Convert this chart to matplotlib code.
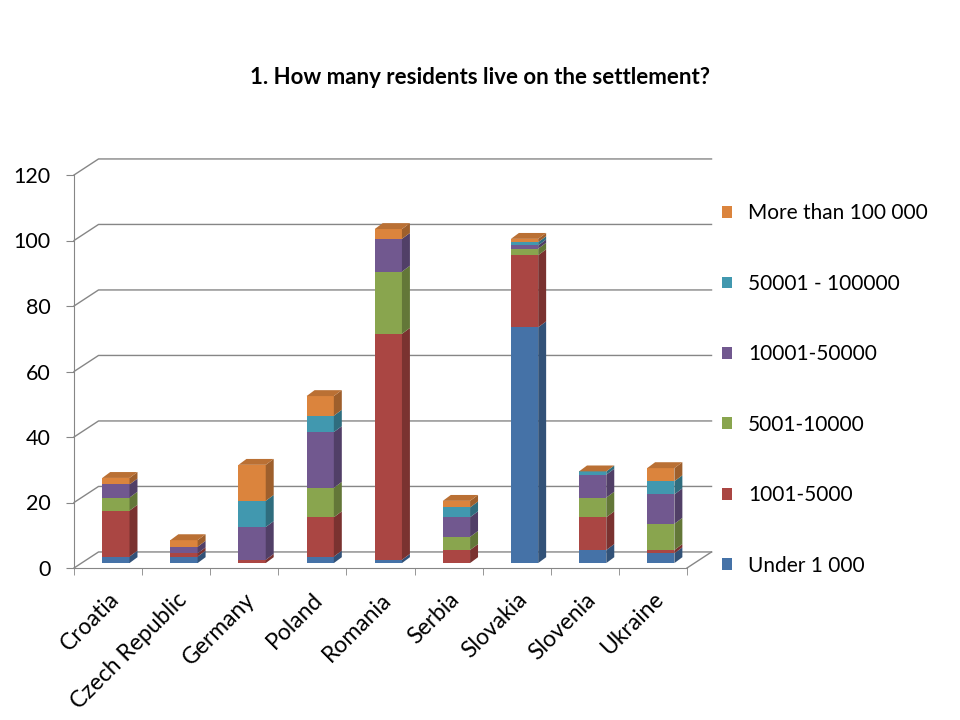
import matplotlib
matplotlib.use('Agg')
import matplotlib.pyplot as plt
from matplotlib.patches import Polygon
import numpy as np

plt.rcParams['font.family'] = ['Lato', 'DejaVu Sans']

# data
categories = ['Croatia', 'Czech Republic', 'Germany', 'Poland', 'Romania',
              'Serbia', 'Slovakia', 'Slovenia', 'Ukraine']
under_1000 = [2, 2, 0, 2, 1, 0, 72, 4, 3]
from_1001 = [14, 1, 1, 12, 69, 4, 22, 10, 1]
from_5001 = [4, 0, 0, 9, 19, 4, 2, 6, 8]
from_10001 = [4, 2, 10, 17, 10, 6, 1, 7, 9]
from_50001 = [0, 0, 8, 5, 0, 3, 1, 1, 4]
over_100000 = [2, 2, 11, 6, 3, 2, 1, 0, 4]

series = [under_1000, from_1001, from_5001, from_10001, from_50001, over_100000]
labels = ['Under 1 000', '1001-5000', '5001-10000', '10001-50000',
          '50001 - 100000', 'More than 100 000']
colors = ['#4572A7', '#AA4643', '#89A54E', '#71588F', '#4198AF', '#DB843D']
yticks = [0, 20, 40, 60, 80, 100, 120]


def shade(c, f):
    r, g, b = matplotlib.colors.to_rgb(c)
    return (r * f, g * f, b * f)


fig = plt.figure(figsize=(9.6, 7.2), dpi=100)
ax = fig.add_axes([74 / 960, 1 - 568 / 720, (687 - 74) / 960, (568 - 175) / 720])
ax.set_xlim(-0.5, 8.5)
ax.set_ylim(0, 120)

# depth of the back wall (in data units)
wdx, wdy = 0.36, 4.9
grid_c = '#868686'
for v in yticks:
    ax.plot([-0.5, -0.5 + wdx, 8.5 + wdx], [v, v + wdy, v + wdy],
            color=grid_c, lw=1, clip_on=False, zorder=0)
ax.plot([8.5, 8.5 + wdx], [0, wdy], color=grid_c, lw=1, clip_on=False, zorder=0)

# 3d-looking stacked columns
bx, by = 0.115, 1.5      # front face shift
bw = 0.40
sdx, sdy = 0.117, 1.8    # column depth
x = np.arange(len(categories))
bottom = np.zeros(len(categories))
handles = []
for vals, col, lab in zip(series, colors, labels):
    vals = np.array(vals, dtype=float)
    bars = ax.bar(x + bx, vals, width=bw, bottom=bottom + by, color=col,
                  label=lab, zorder=3, clip_on=False, linewidth=0)
    handles.append(bars)
    for i in range(len(x)):
        if vals[i] <= 0:
            continue
        xr = x[i] + bx + bw / 2
        b0 = bottom[i] + by
        b1 = b0 + vals[i]
        ax.add_patch(Polygon([(xr, b0), (xr + sdx, b0 + sdy), (xr + sdx, b1 + sdy), (xr, b1)],
                             closed=True, color=shade(col, 0.72), lw=0, zorder=3, clip_on=False))
    bottom = bottom + vals

# top caps
for i in range(len(x)):
    xl = x[i] + bx - bw / 2
    xr = x[i] + bx + bw / 2
    t = bottom[i] + by
    ax.add_patch(Polygon([(xl, t), (xr, t), (xr + sdx, t + sdy), (xl + sdx, t + sdy)],
                         closed=True, color=shade(colors[-1], 0.85), lw=0, zorder=3, clip_on=False))

for s in ['top', 'right']:
    ax.spines[s].set_visible(False)
for s in ['left', 'bottom']:
    ax.spines[s].set_color(grid_c)

ax.set_yticks(yticks)
ax.tick_params(axis='y', length=6, color=grid_c, pad=11, labelsize=15.5)
ax.set_xticks(x)
ax.set_xticklabels(categories, rotation=45, ha='right', rotation_mode='anchor', fontsize=16.5)
ax.set_xticks(np.arange(-0.5, 9, 1), minor=True)
ax.tick_params(axis='x', which='major', length=0, pad=15)
ax.tick_params(axis='x', which='minor', length=5, color=grid_c)

fig.text(0.5, 1 - 77 / 720, '1. How many residents live on the settlement?',
         ha='center', va='center', fontsize=16, fontweight='bold')

fig.legend(handles[::-1], labels[::-1], loc='center left',
           bbox_to_anchor=(722 / 960, 1 - 389.5 / 720), frameon=False,
           fontsize=15, handlelength=0.5, handleheight=0.5,
           handletextpad=0.75, labelspacing=2.42, borderpad=0, borderaxespad=0)

fig.savefig('out.png', dpi=100, facecolor='white')
